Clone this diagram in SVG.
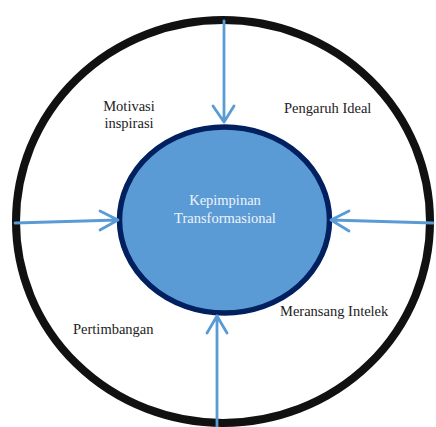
<svg xmlns="http://www.w3.org/2000/svg" width="436" height="427" viewBox="0 0 436 427">
<style>
.lbl{font-family:"Liberation Serif","Times New Roman",serif;font-size:14.5px;fill:#222}
.in{font-family:"Liberation Serif","Times New Roman",serif;font-size:14.5px;fill:#eef3fb;text-anchor:middle}
.arr{stroke:#5B9BD5;stroke-width:2.8;fill:none;stroke-linecap:round;stroke-linejoin:round}
</style>
<rect width="436" height="427" fill="#fff"/>
<g id="outer">
<ellipse cx="223" cy="221.5" rx="207" ry="201.5" fill="#fff" stroke="#111" stroke-width="8"/>
</g>
<g id="center">
<ellipse cx="224.5" cy="220" rx="105" ry="93" fill="#5B9BD5" stroke="#002060" stroke-width="5.5"/>
<text class="in" x="225" y="205">Kepimpinan</text>
<text class="in" x="225" y="223">Transformasional</text>
</g>
<g id="motivasi">
<text class="lbl" x="129" y="111" text-anchor="middle">Motivasi</text>
<text class="lbl" x="129" y="128" text-anchor="middle">inspirasi</text>
</g>
<g id="pengaruh">
<text class="lbl" x="284" y="113">Pengaruh Ideal</text>
</g>
<g id="meransang">
<text class="lbl" x="280" y="316">Meransang Intelek</text>
</g>
<g id="pertimbangan">
<text class="lbl" x="73" y="334">Pertimbangan</text>
</g>
<g id="connectors">
<path class="arr" d="M224,21 L224,122 M213,106 L224,122 L234,106"/>
<path class="arr" d="M15,223 L118,220 M100,211 L118,220 L100,230"/>
<path class="arr" d="M433,223 L331,220 M349,211 L331,220 L349,231"/>
<path class="arr" d="M217,427 L217,316 M207,333 L217,316 L227,333"/>
</g>
</svg>
